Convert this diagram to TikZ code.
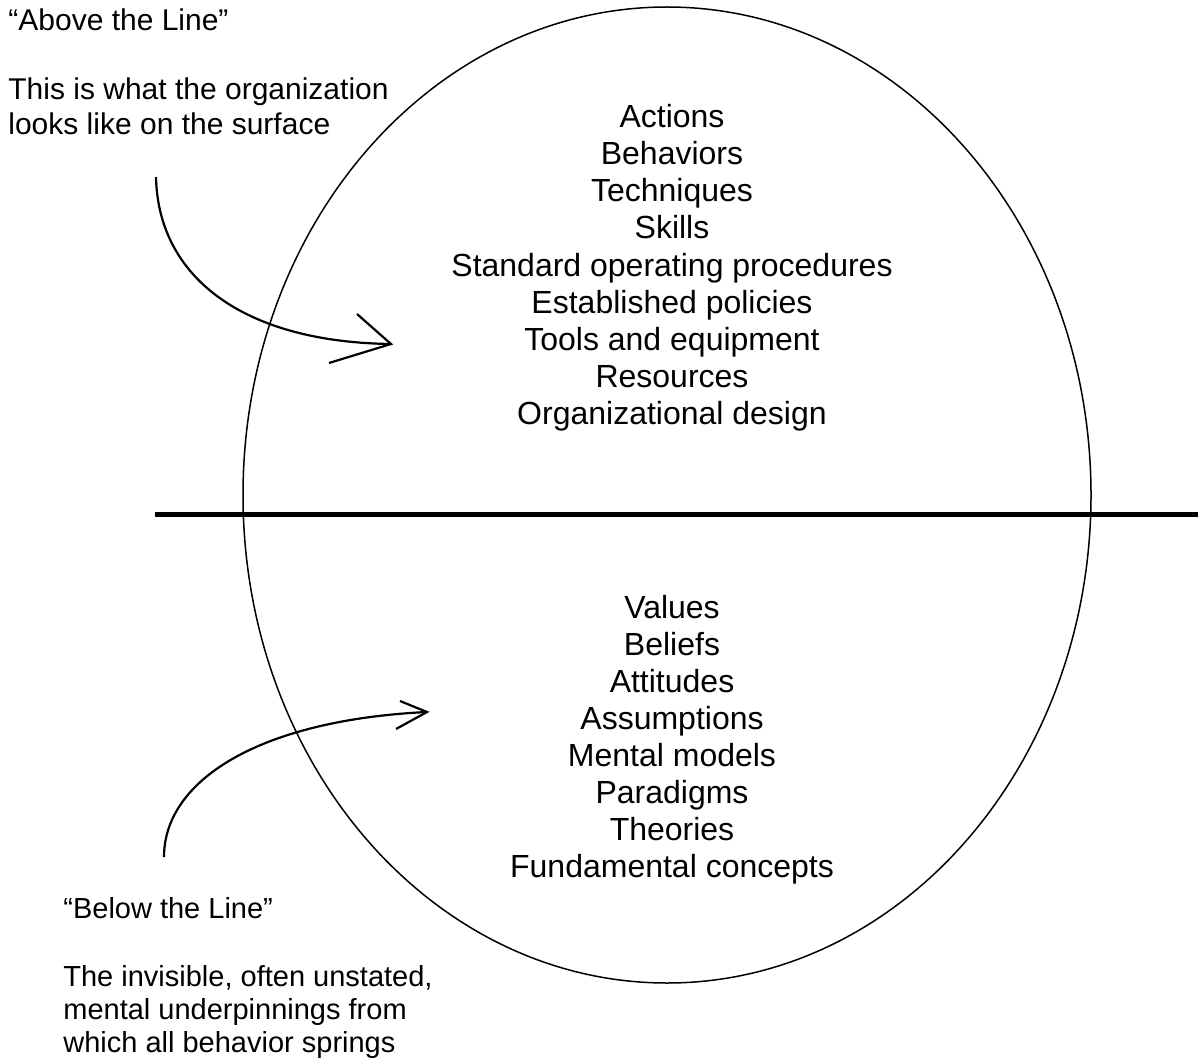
\documentclass[tikz,border=0pt]{standalone}
\usepackage{fontspec}
\setmainfont{Liberation Sans}
\begin{document}
\begin{tikzpicture}[x=0.5pt,y=-0.5pt,
  listtext/.style={anchor=base,inner sep=0pt,font=\fontsize{16pt}{18.4pt}\selectfont},
  sidetext/.style={anchor=base west,inner sep=0pt,font=\fontsize{14.5pt}{16.7pt}\selectfont},
  sidetop/.style={sidetext,font=\fontsize{15pt}{17.2pt}\selectfont},
  thinline/.style={line width=0.75pt},
  arrowline/.style={line width=1.1pt},
  divider/.style={line width=2.6pt}]
\useasboundingbox (0,0) rectangle (1198,1059);
% iceberg ellipse
\draw[thinline] (667,495) ellipse [x radius=212pt, y radius=244pt];
% the line
\coordinate (lineL) at (155,514.5);
\coordinate (lineR) at (1198,514.5);
\draw[divider] (lineL) -- (lineR);
% upper list
\foreach \t [count=\i from 0] in {Actions,Behaviors,Techniques,Skills,Standard operating procedures,Established policies,Tools and equipment,Resources,Organizational design}
  \node[listtext] (up\i) at (672,{128+37*\i}) {\t};
% lower list
\foreach \t [count=\i from 0] in {Values,Beliefs,Attitudes,Assumptions,Mental models,Paradigms,Theories,Fundamental concepts}
  \node[listtext] (lo\i) at (672,{618+37*\i}) {\t};
% side texts
\node[sidetop] (aboveT) at (8,31) {“Above the Line”};
\node[sidetop] (above1) at (8,100) {This is what the organization};
\node[sidetop] (above2) at (8,135) {looks like on the surface};
\node[sidetext] (belowT) at (63,918) {“Below the Line”};
\node[sidetext] (below1) at (63,986) {The invisible, often unstated,};
\node[sidetext] (below2) at (63,1019) {mental underpinnings from};
\node[sidetext] (below3) at (63,1052) {which all behavior springs};
% upper arrow
\coordinate (a1s) at (156,177);
\coordinate (a1t) at (391,344);
\coordinate (a1b1) at (357,314);
\coordinate (a1b2) at (329,363);
\draw[arrowline] (a1s) .. controls (158,275) and (240,342) .. (a1t);
\draw[arrowline] (a1b1) -- (a1t) -- (a1b2);
% lower arrow
\coordinate (a2s) at (164,857);
\coordinate (a2t) at (427,712);
\coordinate (a2b1) at (400,701);
\coordinate (a2b2) at (396,729);
\draw[arrowline] (a2s) .. controls (164,780) and (260,720) .. (a2t);
\draw[arrowline] (a2b1) -- (a2t) -- (a2b2);
\end{tikzpicture}
\end{document}
